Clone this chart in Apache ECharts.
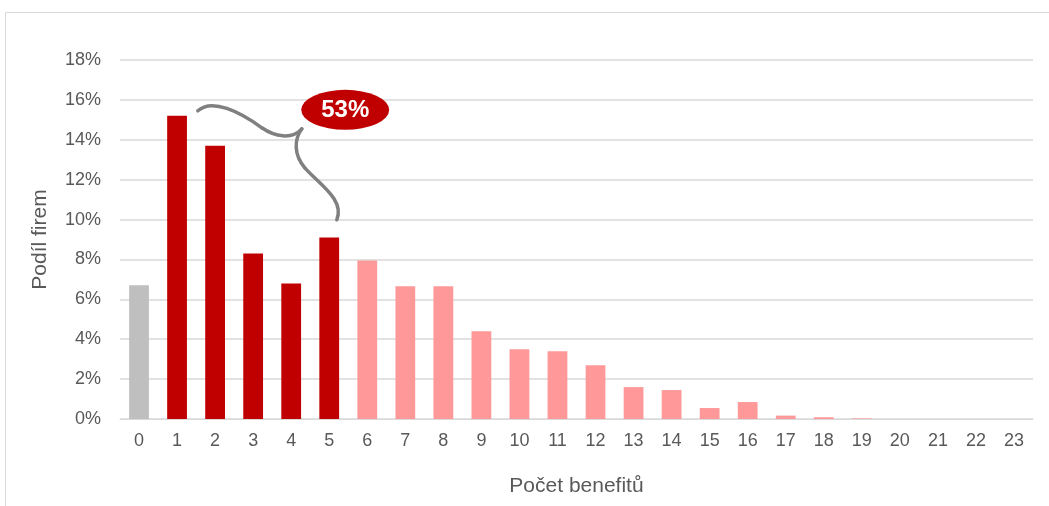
<!DOCTYPE html>
<html><head><meta charset="utf-8">
<script src="https://cdn.jsdelivr.net/npm/echarts@6/dist/echarts.min.js"></script>
<style>html,body{margin:0;padding:0;background:#fff}#c{width:1049px;height:506px}</style>
</head><body><div id="c"></div>
<script>
const categories = ['0','1','2','3','4','5','6','7','8','9','10','11','12','13','14','15','16','17','18','19','20','21','22','23'];
const values = [6.7,15.2,13.7,8.3,6.8,9.1,7.95,6.65,6.65,4.4,3.5,3.4,2.7,1.6,1.45,0.55,0.85,0.17,0.09,0.03,0,0,0,0];
const groups = ['none','top','top','top','top','top','rest','rest','rest','rest','rest','rest','rest','rest','rest','rest','rest','rest','rest','rest','rest','rest','rest','rest'];
const annotationLabel = '53%';

const colors = {none:'#BFBFBF', top:'#C00000', rest:'#FF9999'};
const chart = echarts.init(document.getElementById('c'));
const font = 'Liberation Sans, Arial, sans-serif';
chart.setOption({
  animation:false,
  grid:{left:120,right:16,top:60,bottom:87},
  xAxis:{type:'category',data:categories,
    axisLine:{lineStyle:{color:'#D9D9D9',width:1}},axisTick:{show:false},
    axisLabel:{color:'#595959',fontSize:18,fontFamily:font,margin:13,interval:0},
    name:'Počet benefitů',nameLocation:'middle',nameGap:57,
    nameTextStyle:{color:'#595959',fontSize:21,fontFamily:font}},
  yAxis:{type:'value',min:0,max:18,interval:2,
    axisLine:{show:false},axisTick:{show:false},
    splitLine:{lineStyle:{color:'#D9D9D9',width:1.5}},
    axisLabel:{color:'#595959',fontSize:18,fontFamily:font,margin:19,formatter:v=>v+'%'},
    name:'Podíl firem',nameLocation:'middle',nameGap:69,
    nameTextStyle:{color:'#595959',fontSize:21,fontFamily:font}},
  series:[{type:'bar',barWidth:'52%',
    data:values.map((v,i)=>({value:v,itemStyle:{color:colors[groups[i]]}}))}]
});

// fractional category position -> pixel
function px(x,y){
  const i = Math.floor(x), f = x - i;
  const p0 = chart.convertToPixel({gridIndex:0},[i,y]);
  const p1 = chart.convertToPixel({gridIndex:0},[i+1,y]);
  return [p0[0] + f*(p1[0]-p0[0]), p0[1]];
}
const T = px(4.28,14.5);   // brace tip
const E = px(5.42,15.5);   // label centre
const o = (dx,dy)=>[T[0]+dx, T[1]+dy];
const lineStyle = {fill:'none',stroke:'#808080',lineWidth:3.5,lineCap:'round'};
function bez(p1,c1,c2,p2){
  return {type:'bezierCurve',shape:{x1:p1[0],y1:p1[1],cpx1:c1[0],cpy1:c1[1],cpx2:c2[0],cpy2:c2[1],x2:p2[0],y2:p2[1]},style:lineStyle,silent:true};
}
chart.setOption({graphic:[
  {type:'rect',shape:{x:5.5,y:12.5,width:1100,height:600},style:{fill:'none',stroke:'#D9D9D9',lineWidth:1},silent:true},
  bez(o(-104,-19),o(-90,-32),o(-62,-18),o(-40,-2)),
  bez(o(-40,-2),o(-27,7),o(-10,10),o(0,-1)),
  bez(o(0,-1),o(-8,10),o(-8,25),o(3,38)),
  bez(o(3,38),o(18,55),o(43,70),o(35,90)),
  {type:'circle',x:E[0],y:E[1],scaleX:2.2,scaleY:1,shape:{cx:0,cy:0,r:20},style:{fill:'#C00000'},silent:true},
  {type:'text',x:E[0],y:E[1]+1,style:{text:annotationLabel,fill:'#fff',font:'bold 24px '+font,align:'center',verticalAlign:'middle'},silent:true}
]});
</script></body></html>
